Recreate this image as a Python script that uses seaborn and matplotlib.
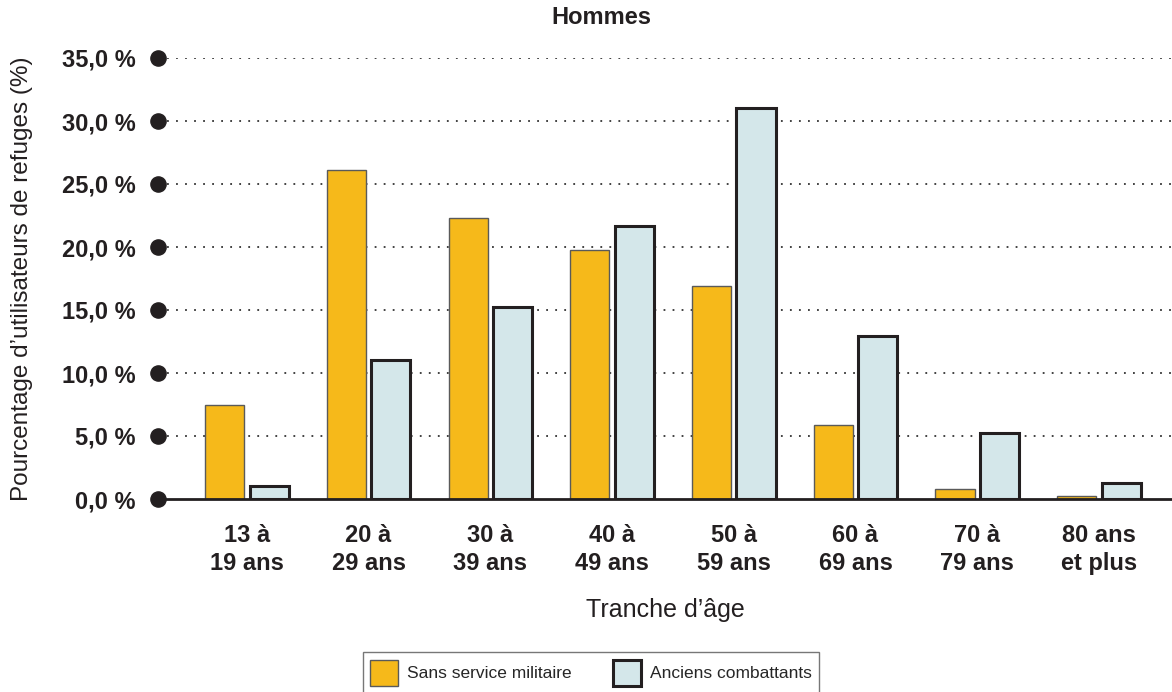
import matplotlib
matplotlib.use("Agg")
import matplotlib.pyplot as plt
import seaborn as sns
import pandas as pd
from matplotlib.patches import Patch

age_groups = ["13 à\n19 ans", "20 à\n29 ans", "30 à\n39 ans", "40 à\n49 ans",
              "50 à\n59 ans", "60 à\n69 ans", "70 à\n79 ans", "80 ans\net plus"]
sans_service = [7.5, 26.1, 22.3, 19.8, 16.9, 5.9, 0.8, 0.2]
anciens = [1.0, 11.0, 15.2, 21.7, 31.0, 12.9, 5.2, 1.3]
series_names = ["Sans service militaire", "Anciens combattants"]
y_ticks = [0, 5, 10, 15, 20, 25, 30, 35]

ORANGE = "#F6B91A"
BLUE = "#D4E7EA"
DARK = "#231F20"
GREY_EDGE = "#5a5a5a"

sns.set_style("white")
plt.rcParams["font.family"] = ["Liberation Sans", "DejaVu Sans"]

df = pd.DataFrame({
    "age": age_groups * 2,
    "pct": sans_service + anciens,
    "serie": [series_names[0]] * len(age_groups) + [series_names[1]] * len(age_groups),
})

fig = plt.figure(figsize=(11.72, 6.92), dpi=100)
ax = fig.add_axes([158 / 1172, 1 - 499 / 692, 1 - 158 / 1172, (499 - 58) / 692])

sns.barplot(data=df, x="age", y="pct", hue="serie", palette=[ORANGE, BLUE],
            saturation=1, width=0.73, gap=0.12, ax=ax, legend=False, zorder=3)

# orange bars: thin grey outline, blue bars: thick dark outline
for bar in ax.containers[0]:
    bar.set_edgecolor(GREY_EDGE)
    bar.set_linewidth(1.0)
for bar in ax.containers[1]:
    bar.set_edgecolor(DARK)
    bar.set_linewidth(2.2)

ax.set_xlim(-0.73, 7.6)
ax.set_ylim(0, 35)
ax.set_yticks(y_ticks)
ax.set_yticklabels([f"{v:.1f}".replace(".", ",") + " %" for v in y_ticks],
                   fontsize=17, fontweight="bold", color=DARK)
ax.tick_params(axis="y", length=0, pad=16)
ax.tick_params(axis="x", length=0, pad=18)
for lbl in ax.get_xticklabels():
    lbl.set_fontsize(17)
    lbl.set_fontweight("bold")
    lbl.set_color(DARK)
    lbl.set_linespacing(1.3)

for sp in ["top", "right", "left"]:
    ax.spines[sp].set_visible(False)
ax.spines["bottom"].set_color(DARK)
ax.spines["bottom"].set_linewidth(2)
ax.spines["bottom"].set_zorder(4)

for v in y_ticks[1:]:
    ax.axhline(v, color="#333333", linestyle=(0, (1, 4)), linewidth=1.3, zorder=1)
ax.scatter([-0.73] * len(y_ticks), y_ticks, s=120, color=DARK, clip_on=False, zorder=5)

ax.set_xlabel("Tranche d\u2019âge", fontsize=18, color=DARK, labelpad=16)
ax.set_ylabel("Pourcentage d\u2019utilisateurs de refuges (%)", fontsize=17.5, color=DARK)
ax.yaxis.label.set_va("center")
ax.yaxis.set_label_coords((22 - 158) / (1172 - 158), 0.5)

fig.text(601 / 1172, 1 - 18 / 692, "Hommes", ha="center", va="center",
         fontsize=17, fontweight="bold", color=DARK)

handles = [Patch(facecolor=ORANGE, edgecolor=GREY_EDGE, linewidth=1.0),
           Patch(facecolor=BLUE, edgecolor=DARK, linewidth=2.2)]
fig.legend(handles, series_names, loc="upper center", bbox_to_anchor=(591 / 1172, 1 - 652 / 692),
           ncol=2, frameon=True, fancybox=False, edgecolor="#555555", fontsize=12.5,
           handlelength=1.6, handleheight=1.9, handletextpad=0.5, columnspacing=2.4,
           borderpad=0.45, borderaxespad=0)

fig.savefig("out.png", dpi=100)
